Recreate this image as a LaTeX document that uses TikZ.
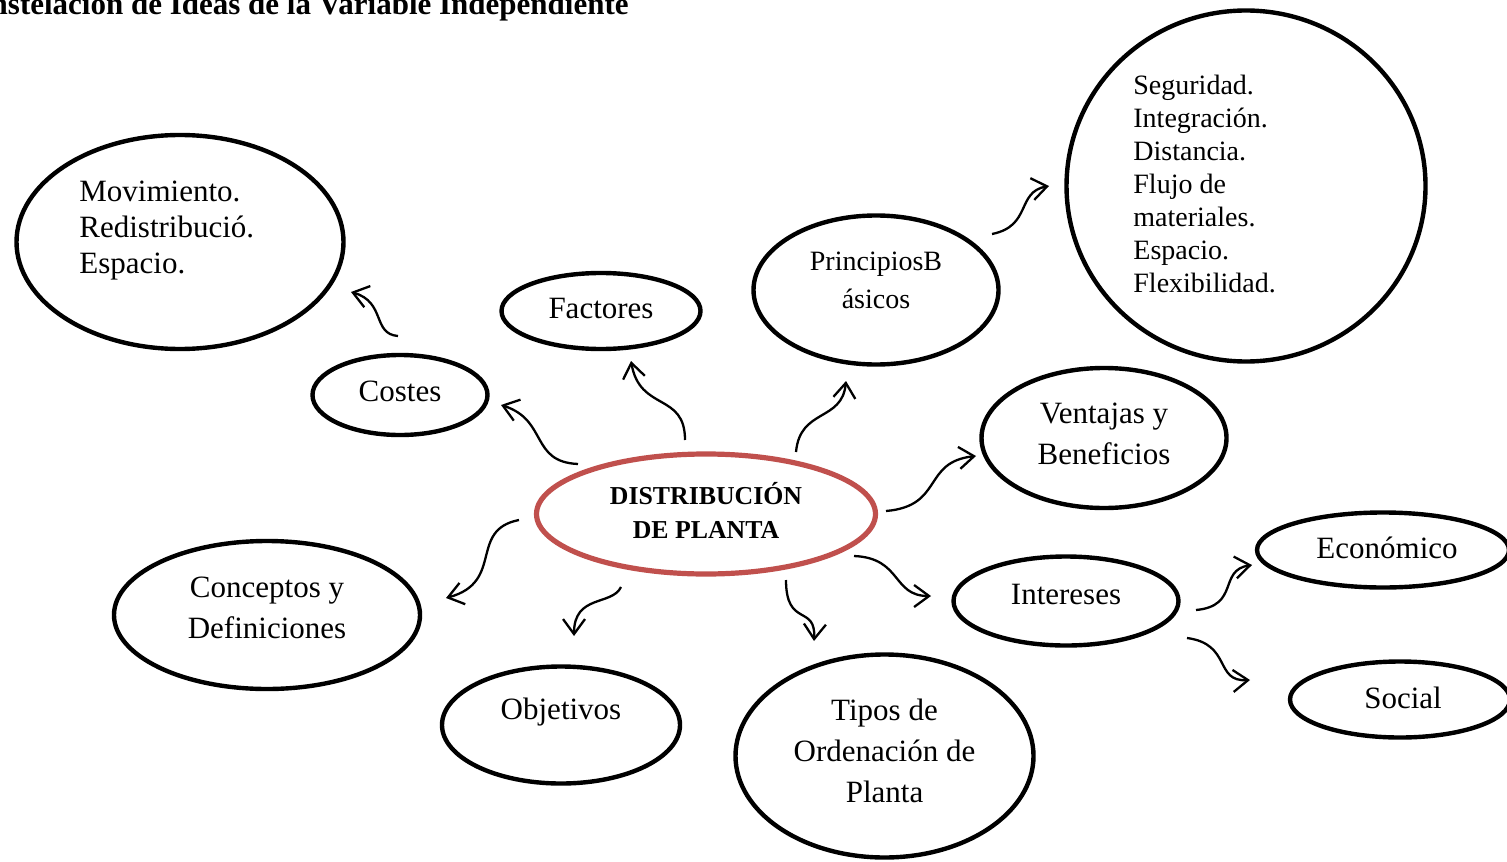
\documentclass[tikz,border=0pt]{standalone}
\usepackage{fontspec}
\setmainfont{Liberation Serif}
\usetikzlibrary{shapes.geometric,arrows.meta}
\definecolor{accent}{HTML}{C0504D}
\tikzset{
  oval/.style={ellipse, draw, line width=2.2pt, inner sep=0pt},
  lbl/.style={font=\fontsize{15.5}{20.5}\selectfont, align=center, inner sep=0pt},
  lblsmall/.style={font=\fontsize{14}{16.5}\selectfont, inner sep=0pt},
  arr/.style={line width=1.15pt, -{Straight Barb[length=7.5pt,width=11pt]}}
}
\begin{document}
\begin{tikzpicture}[x=0.5pt,y=-0.5pt]
\useasboundingbox (0,0) rectangle (1507,861);

% title
\node[font=\bfseries\fontsize{15.5}{18}\selectfont, anchor=base east, inner sep=0pt] (title) at (629,15) {Constelación de Ideas de la Variable Independiente};

% central idea
\node[ellipse, draw=accent, line width=2.6pt, minimum width=169.5pt, minimum height=60pt, inner sep=0pt] (dis) at (706,514) {};
\node[font=\bfseries\fontsize{12.9}{17}\selectfont, align=center, inner sep=0pt] (dist) at (706,510) {DISTRIBUCIÓN\\DE PLANTA};

% surrounding ideas
\node[oval, minimum width=163.5pt, minimum height=107pt] (mov) at (180,242) {};
\node[font=\fontsize{15.5}{18}\selectfont, align=left, anchor=west, inner sep=0pt] (movt) at (79,231) {Movimiento.\\Redistribució.\\Espacio.};

\node[oval, minimum width=99.5pt, minimum height=38pt] (fac) at (601,311) {};
\node[lbl] (fact) at (601,309) {Factores};

\node[oval, minimum width=122.5pt, minimum height=74.5pt] (pri) at (876,290) {};
\node[font=\fontsize{14}{19}\selectfont, align=center, inner sep=0pt] (prit) at (876,280) {PrincipiosB\\ásicos};

\node[oval, minimum width=179.5pt, minimum height=175.5pt] (big) at (1246,186) {};
\node[lblsmall, align=left, anchor=west] (bigt) at (1133,184) {Seguridad.\\Integración.\\Distancia.\\Flujo de\\materiales.\\Espacio.\\Flexibilidad.};

\node[oval, minimum width=87.5pt, minimum height=40pt] (cos) at (400,395) {};
\node[lbl] (cost) at (400,391) {Costes};

\node[oval, minimum width=122.5pt, minimum height=70pt] (ven) at (1104,438) {};
\node[lbl] (vent) at (1104,434) {Ventajas y\\Beneficios};

\node[oval, minimum width=153pt, minimum height=74pt] (con) at (267,615) {};
\node[lbl] (cont) at (267,608) {Conceptos y\\Definiciones};

\node[oval, minimum width=119pt, minimum height=58.5pt] (obj) at (561,725) {};
\node[lbl] (objt) at (561,712) {Objetivos};

\node[oval, minimum width=149pt, minimum height=101.5pt] (tip) at (884.5,756) {};
\node[lbl] (tipt) at (884.5,751) {Tipos de\\Ordenación de\\Planta};

\node[oval, minimum width=112.5pt, minimum height=44.5pt] (int) at (1066,601) {};
\node[lbl] (intt) at (1066,594) {Intereses};

\node[oval, minimum width=126pt, minimum height=37.5pt] (eco) at (1383,550) {};
\node[lbl] (ecot) at (1387,548) {Económico};

\node[oval, minimum width=110pt, minimum height=38pt] (soc) at (1400,699.5) {};
\node[lbl] (soct) at (1403,698) {Social};

% connector end points
\coordinate (a1s) at (398,336);  \coordinate (a1e) at (351,292);
\coordinate (a2s) at (578,464);  \coordinate (a2e) at (501,405);
\coordinate (a3s) at (685,440);  \coordinate (a3e) at (631,361);
\coordinate (a4s) at (796,452);  \coordinate (a4e) at (846,381);
\coordinate (a5s) at (992,234);  \coordinate (a5e) at (1049,186);
\coordinate (a6s) at (886,511);  \coordinate (a6e) at (976,456);
\coordinate (a7s) at (519,520);  \coordinate (a7e) at (446,598);
\coordinate (a8s) at (621,587);  \coordinate (a8e) at (574,636);
\coordinate (a9s) at (786,580);  \coordinate (a9e) at (814,641);
\coordinate (a10s) at (854,556); \coordinate (a10e) at (931,596);
\coordinate (a11s) at (1196,610); \coordinate (a11e) at (1252,565);
\coordinate (a12s) at (1187,638); \coordinate (a12e) at (1250,680);

% wavy connectors
\draw[arr] (a1s) .. controls (372,334) and (386,302) .. (a1e);
\draw[arr] (a2s) .. controls (530,462) and (548,420) .. (a2e);
\draw[arr] (a3s) .. controls (685,392) and (640,412) .. (a3e);
\draw[arr] (a4s) .. controls (800,408) and (842,422) .. (a4e);
\draw[arr] (a5s) .. controls (1032,226) and (1016,192) .. (a5e);
\draw[arr] (a6s) .. controls (944,506) and (922,462) .. (a6e);
\draw[arr] (a7s) .. controls (468,530) and (505,582) .. (a7e);
\draw[arr] (a8s) .. controls (612,606) and (574,594) .. (a8e);
\draw[arr] (a9s) .. controls (786,628) and (816,604) .. (a9e);
\draw[arr] (a10s) .. controls (902,558) and (892,596) .. (a10e);
\draw[arr] (a11s) .. controls (1240,606) and (1218,570) .. (a11e);
\draw[arr] (a12s) .. controls (1232,644) and (1214,682) .. (a12e);
\end{tikzpicture}
\end{document}
